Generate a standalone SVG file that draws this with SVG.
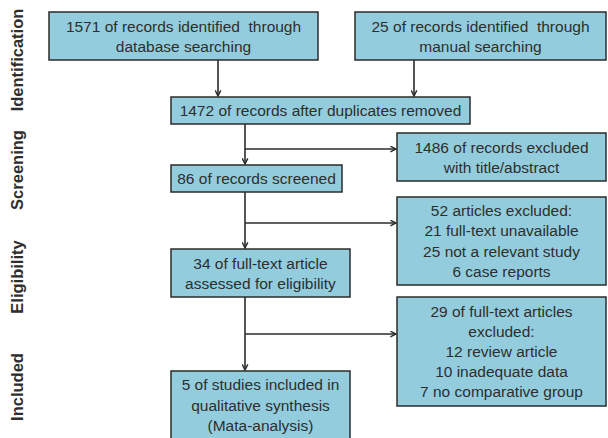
<svg xmlns="http://www.w3.org/2000/svg" width="608" height="438" viewBox="0 0 608 438">
<style>
.box{fill:#93cddd;stroke:#2b2b2b;stroke-width:1.5}
.t{font-family:"Liberation Sans",Arial,sans-serif;font-size:15.5px;fill:#2e2e2e;text-anchor:middle;white-space:pre}
.lab{font-family:"Liberation Sans",Arial,sans-serif;font-size:16.5px;font-weight:bold;fill:#2e2e2e;text-anchor:middle}
.c{fill:none;stroke:#2b2b2b;stroke-width:1.6}
</style>
<defs>
<marker id="ah" viewBox="0 0 10 10" refX="9" refY="5" markerWidth="7" markerHeight="7" markerUnits="userSpaceOnUse" orient="auto">
<path d="M1,1 L9,5 L1,9" fill="none" stroke="#2b2b2b" stroke-width="2"/>
</marker>
</defs>
<g id="labels">
<text class="lab" transform="translate(22.5,60) rotate(-90)">Identification</text>
<text class="lab" transform="translate(22.5,170) rotate(-90)">Screening</text>
<text class="lab" transform="translate(22.5,277) rotate(-90)">Eligibility</text>
<text class="lab" transform="translate(22.5,387) rotate(-90)">Included</text>
</g>
<g id="connectors">
<path class="c" d="M218,60 V96" marker-end="url(#ah)"/>
<path class="c" d="M414,60 V96" marker-end="url(#ah)"/>
<path class="c" d="M245,124 V164" marker-end="url(#ah)"/>
<path class="c" d="M245,149 H396" marker-end="url(#ah)"/>
<path class="c" d="M245,192 V248" marker-end="url(#ah)"/>
<path class="c" d="M245,223 H396" marker-end="url(#ah)"/>
<path class="c" d="M245,297 V370" marker-end="url(#ah)"/>
<path class="c" d="M245,334 H396" marker-end="url(#ah)"/>
</g>
<g id="n1">
<rect class="box" x="49" y="12" width="269" height="48"/>
<text class="t" x="183.5" y="31.5" xml:space="preserve">1571 of records identified  through</text>
<text class="t" x="183.5" y="51.5">database searching</text>
</g>
<g id="n2">
<rect class="box" x="355" y="12" width="251" height="48"/>
<text class="t" x="480.5" y="31.5" xml:space="preserve">25 of records identified  through</text>
<text class="t" x="480.5" y="51.5">manual searching</text>
</g>
<g id="n3">
<rect class="box" x="171" y="97" width="299" height="27"/>
<text class="t" x="320.5" y="116">1472 of records after duplicates removed</text>
</g>
<g id="n4">
<rect class="box" x="397" y="133" width="209" height="48"/>
<text class="t" x="501.5" y="152.5">1486 of records excluded</text>
<text class="t" x="501.5" y="172.5">with title/abstract</text>
</g>
<g id="n5">
<rect class="box" x="171" y="165" width="171" height="27"/>
<text class="t" x="256.5" y="184">86 of records screened</text>
</g>
<g id="n6">
<rect class="box" x="397" y="197" width="209" height="88"/>
<text class="t" x="501.5" y="216">52 articles excluded:</text>
<text class="t" x="501.5" y="236.3">21 full-text unavailable</text>
<text class="t" x="501.5" y="256.7">25 not a relevant study</text>
<text class="t" x="501.5" y="277">6 case reports</text>
</g>
<g id="n7">
<rect class="box" x="171" y="249" width="179" height="48"/>
<text class="t" x="260.5" y="268.5">34 of full-text article</text>
<text class="t" x="260.5" y="288.5">assessed for eligibility</text>
</g>
<g id="n8">
<rect class="box" x="397" y="297" width="209" height="109"/>
<text class="t" x="501.5" y="316.7">29 of full-text articles</text>
<text class="t" x="501.5" y="336.7">excluded:</text>
<text class="t" x="501.5" y="356.7">12 review article</text>
<text class="t" x="501.5" y="376.7">10 inadequate data</text>
<text class="t" x="501.5" y="397">7 no comparative group</text>
</g>
<g id="n9">
<rect class="box" x="171" y="371" width="179" height="70"/>
<text class="t" x="260.5" y="390">5 of studies included in</text>
<text class="t" x="260.5" y="410.5">qualitative synthesis</text>
<text class="t" x="260.5" y="431">(Mata-analysis)</text>
</g>
</svg>
